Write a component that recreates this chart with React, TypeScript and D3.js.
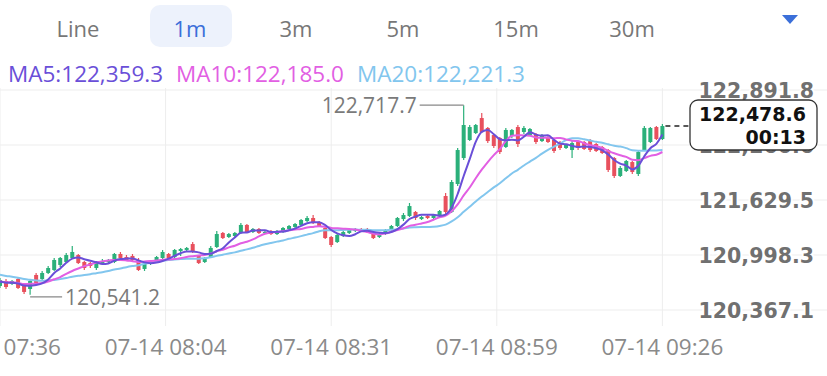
import React from "react";
import * as d3 from "d3";

const W = 827;
const H = 376;

const tabs = ["Line", "1m", "3m", "5m", "15m", "30m"];
const activeTab = "1m";

const priorCloses = [
  120880, 120905, 120860, 120842, 120890, 120851, 120830, 120812, 120795, 120770,
  120745, 120720, 120690, 120705, 120668, 120680, 120702, 120672, 120690,
];

const opens = [
  120643, 120700, 120666, 120723, 120643, 120608, 120769, 120723, 120792, 120826,
  120884, 120918, 120964, 120998, 120918, 120906, 120849, 120906, 120918, 120918,
  121010, 120975, 120987, 120941, 120838, 120895, 120929, 120964, 121010, 120975,
  121044, 121056, 121124, 120987, 120918, 120975, 121090, 121251, 121205, 121216,
  121251, 121343, 121262, 121297, 121251, 121274, 121239, 121262, 121297, 121320,
  121343, 121388, 121423, 121377, 121308, 121205, 121147, 121216, 121251, 121274,
  121297, 121297, 121251, 121205, 121239, 121285, 121331, 121411, 121446, 121492,
  121411, 121446, 121423, 121446, 121675, 121492, 121813, 122111, 122318, 122398,
  122570, 122456, 122375, 122341, 122238, 122364, 122467, 122410, 122375, 122387,
  122306, 122352, 122318, 122295, 122226, 122203, 122295, 122295, 122306, 122272,
  122238, 122203, 122111, 121905, 121962, 122065, 121928, 122203, 122295, 122467,
  122329,
];

const closes = [
  120711, 120631, 120700, 120620, 120574, 120700, 120677, 120792, 120849, 120941,
  120964, 120998, 121033, 120906, 120849, 120872, 120918, 120929, 120941, 121010,
  120964, 120941, 120941, 120826, 120895, 120918, 120975, 121033, 120964, 121056,
  121067, 121079, 121033, 120906, 120964, 121079, 121239, 121193, 121239, 121251,
  121343, 121262, 121297, 121251, 121262, 121239, 121274, 121308, 121331, 121354,
  121400, 121423, 121365, 121331, 121193, 121113, 121228, 121262, 121285, 121297,
  121274, 121262, 121193, 121239, 121285, 121331, 121423, 121457, 121560, 121423,
  121434, 121423, 121457, 121503, 121492, 121836, 122203, 122490, 122467, 122490,
  122410, 122306, 122249, 122180, 122433, 122433, 122272, 122456, 122444, 122295,
  122375, 122295, 122192, 122226, 122261, 122283, 122226, 122215, 122203, 122192,
  122169, 121974, 121905, 121997, 122077, 121951, 122180, 122456, 122456, 122329,
  122478.6,
];

const highs = [
  120734, 120723, 120711, 120734, 120666, 120723, 120792, 120815, 120872, 120964,
  120975, 121021, 121102, 121010, 120929, 120918, 120929, 120952, 120952, 121021,
  121033, 120998, 121010, 120964, 120906, 120929, 120987, 121056, 121021, 121067,
  121079, 121090, 121147, 120998, 120975, 121102, 121274, 121262, 121251, 121262,
  121365, 121354, 121308, 121308, 121285, 121285, 121285, 121320, 121343, 121365,
  121411, 121446, 121457, 121388, 121320, 121216, 121251, 121274, 121297, 121308,
  121308, 121308, 121262, 121251, 121297, 121343, 121434, 121480, 121595, 121503,
  121446, 121457, 121469, 121515, 121710, 121859, 122226, 122717.7, 122490, 122501,
  122628, 122467, 122387, 122352, 122456, 122444, 122490, 122479, 122456, 122398,
  122387, 122364, 122329, 122306, 122272, 122306, 122306, 122306, 122329, 122283,
  122249, 122215, 122123, 122020, 122088, 122077, 122203, 122479, 122467, 122479,
  122501,
];

const lows = [
  120620, 120608, 120654, 120608, 120551, 120541.2, 120654, 120711, 120780, 120815,
  120861, 120906, 120952, 120895, 120826, 120849, 120826, 120895, 120906, 120906,
  120952, 120929, 120929, 120815, 120815, 120884, 120918, 120952, 120952, 120964,
  120987, 121044, 121021, 120895, 120906, 120964, 121079, 121182, 121193, 121205,
  121239, 121251, 121251, 121239, 121239, 121228, 121228, 121251, 121285, 121308,
  121331, 121377, 121354, 121320, 121182, 121090, 121136, 121205, 121239, 121262,
  121262, 121251, 121182, 121193, 121228, 121274, 121320, 121388, 121434, 121400,
  121400, 121411, 121411, 121434, 121469, 121480, 121790, 122088, 122306, 122387,
  122398, 122283, 122226, 122157, 122226, 122341, 122238, 122387, 122364, 122272,
  122295, 122283, 122169, 122203, 122215, 122111, 122203, 122203, 122180, 122180,
  122157, 121951, 121882, 121893, 121951, 121928, 121905, 122192, 122283, 122318,
  122318,
];

const yTicks = [122891.8, 122260.6, 121629.5, 120998.3, 120367.1];
const xTickIndex = [0, 27.5, 55, 82.5, 110];
const xTickLabels = ["07-14 07:36", "07-14 08:04", "07-14 08:31", "07-14 08:59", "07-14 09:26"];

const maLegend = [
  { name: "MA5", period: 5, value: "122,359.3", color: "#6a4fd8", x: 8 },
  { name: "MA10", period: 10, value: "122,185.0", color: "#e25fe3", x: 176 },
  { name: "MA20", period: 20, value: "122,221.3", color: "#82c6ee", x: 357 },
];
const countdown = "00:13";

const UP = "#2bb07a";
const DOWN = "#e8505d";

const fmt = (v: number) =>
  d3.format(",.1f")(v);

export default function App() {
  const n = closes.length;
  const x = d3.scaleLinear().domain([0, n - 1]).range([0, 662.4]);
  const y = d3.scaleLinear().domain([120367.1, 122891.8]).range([310, 90]);

  const all = [...priorCloses, ...closes];
  const off = priorCloses.length;
  const maSeries = maLegend.map((m) => {
    const pts: [number, number][] = closes.map((_, i) => {
      const slice = all.slice(off + i - m.period + 1, off + i + 1);
      return [x(i), y(d3.mean(slice) as number)];
    });
    const line = d3.line().curve(d3.curveMonotoneX);
    return { ...m, d: line(pts) as string };
  });

  const maxI = d3.maxIndex(highs);
  const minI = d3.minIndex(lows);
  const lastI = n - 1;
  const lastY = y(closes[lastI]);

  const tabX = [78, 190, 296, 403, 516, 632];
  const font = "'Open Sans', 'Noto Sans', sans-serif";
  const bold = "'DejaVu Sans', sans-serif";

  return (
    <div style={{ position: "fixed", left: 0, top: 0, width: W, height: H, background: "#fff" }}>
      <svg width={W} height={H} style={{ display: "block" }}>
        <rect width={W} height={H} fill="#fff" />
        {/* tabs */}
        <rect x={150} y={5} width={82} height={42} rx={10} fill="#edf2fc" />
        {tabs.map((t, i) => (
          <text
            key={t}
            x={tabX[i]}
            y={28}
            textAnchor="middle"
            dominantBaseline="central"
            fontFamily={font}
            fontSize={22}
            fill={t === activeTab ? "#3b6fd9" : "#777"}
          >
            {t}
          </text>
        ))}
        <path d="M782,15 L798,15 L790,24 Z" fill="#3b6fd9" />

        {/* legend */}
        {maLegend.map((m) => (
          <text key={m.name} x={m.x} y={73} dominantBaseline="central" fontFamily={font} fontSize={22.5} fill={m.color}>
            {m.name}:{m.value}
          </text>
        ))}

        {/* grid */}
        {yTicks.map((v) => (
          <line key={v} x1={0} x2={827} y1={y(v)} y2={y(v)} stroke="#ededed" strokeWidth={1} />
        ))}
        {xTickIndex.map((t) => (
          <line key={t} x1={x(t)} x2={x(t)} y1={88} y2={326} stroke="#ededed" strokeWidth={1} />
        ))}

        {/* y labels */}
        {yTicks.map((v) => (
          <text
            key={"l" + v}
            x={814}
            y={y(v) + 1}
            textAnchor="end"
            dominantBaseline="central"
            fontFamily={bold}
            fontWeight="bold"
            fontSize={20.5}
            fill="#707070"
            stroke="#fff"
            strokeWidth={4}
            paintOrder="stroke"
          >
            {fmt(v)}
          </text>
        ))}

        {/* x labels */}
        {xTickIndex.map((t, i) => (
          <text key={"x" + t} x={x(t)} y={346} textAnchor="middle" dominantBaseline="central" fontFamily={font} fontSize={22.5} fill="#8a8a8a">
            {xTickLabels[i]}
          </text>
        ))}

        {/* candles */}
        {closes.map((c, i) => {
          const o = opens[i];
          const up = c >= o;
          const col = up ? UP : DOWN;
          const top = y(Math.max(o, c));
          const bot = y(Math.min(o, c));
          return (
            <g key={i}>
              <line x1={x(i)} x2={x(i)} y1={y(highs[i])} y2={y(lows[i])} stroke={col} strokeWidth={1.2} />
              <rect x={x(i) - 2} y={top} width={4} height={Math.max(1, bot - top)} fill={col} />
            </g>
          );
        })}

        {/* MA lines */}
        {maSeries
          .slice()
          .reverse()
          .map((m) => (
            <path key={m.name} d={m.d} fill="none" stroke={m.color} strokeWidth={2} />
          ))}

        {/* max annotation */}
        <line x1={x(maxI) - 44} x2={x(maxI)} y1={y(highs[maxI])} y2={y(highs[maxI])} stroke="#888" strokeWidth={1.2} />
        <text x={x(maxI) - 47} y={y(highs[maxI])} textAnchor="end" dominantBaseline="central" fontFamily={font} fontSize={21} fill="#7a7a7a">
          {fmt(highs[maxI])}
        </text>
        {/* min annotation */}
        <line x1={x(minI)} x2={x(minI) + 32} y1={y(lows[minI]) + 2} y2={y(lows[minI]) + 2} stroke="#888" strokeWidth={1.2} />
        <text x={x(minI) + 35} y={y(lows[minI]) + 2} dominantBaseline="central" fontFamily={font} fontSize={21} fill="#7a7a7a">
          {fmt(lows[minI])}
        </text>

        {/* last price */}
        <line x1={x(lastI) + 3} x2={689} y1={lastY} y2={lastY} stroke="#222" strokeWidth={1.5} strokeDasharray="5 4" />
        <rect x={690} y={100} width={127} height={50} rx={8} fill="#fff" stroke="#333" strokeWidth={1.3} />
        <text x={806} y={114} textAnchor="end" dominantBaseline="central" fontFamily={bold} fontWeight="bold" fontSize={19} fill="#111">
          {fmt(closes[lastI])}
        </text>
        <text x={806} y={137} textAnchor="end" dominantBaseline="central" fontFamily={bold} fontWeight="bold" fontSize={19} fill="#111">
          {countdown}
        </text>
      </svg>
    </div>
  );
}
